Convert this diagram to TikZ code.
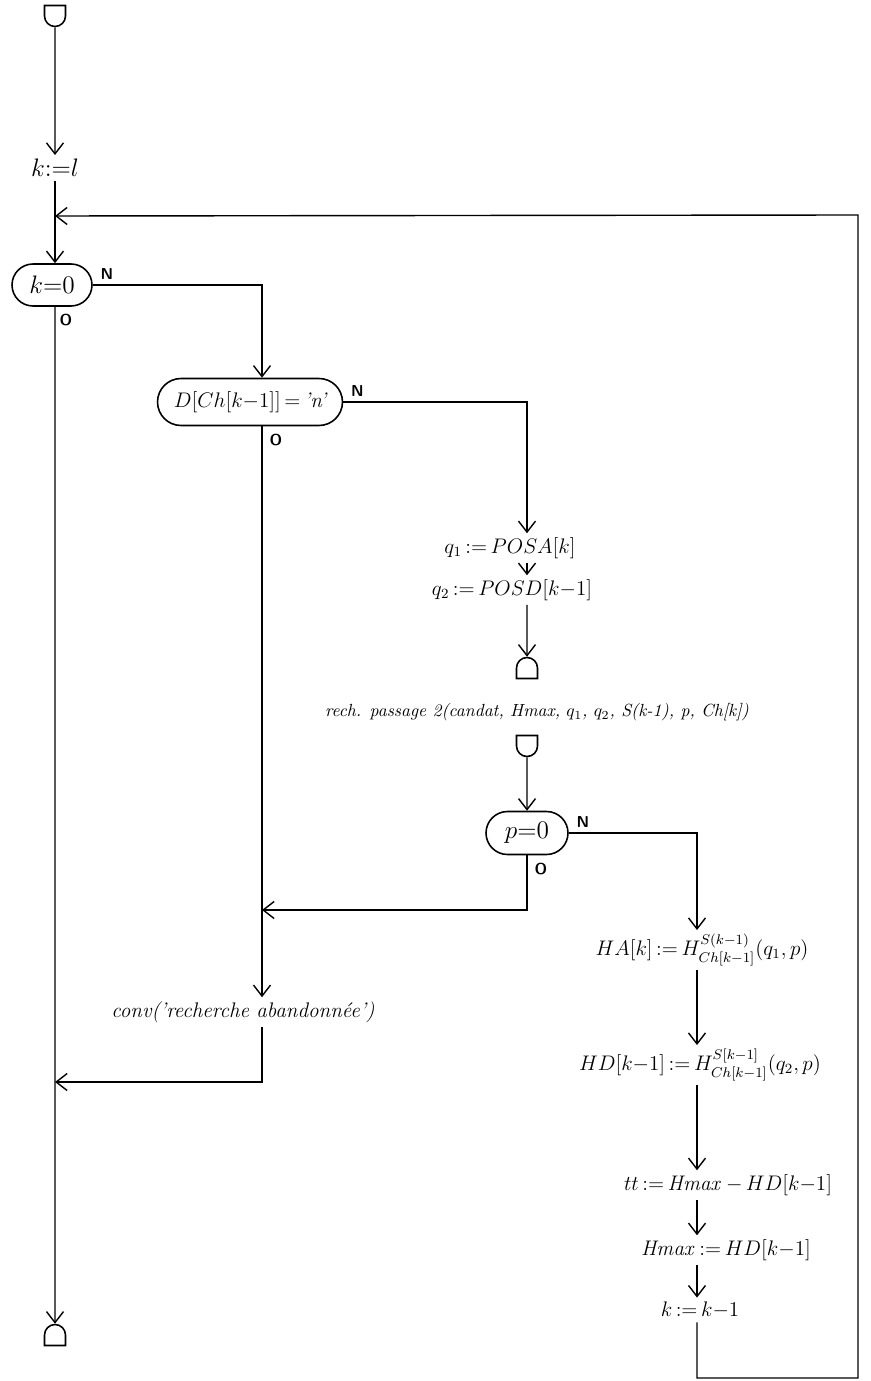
\documentclass[tikz,border=0pt]{standalone}
\usepackage{amsmath,amssymb}
\usepackage{tikz}
\usetikzlibrary{shapes.misc,arrows.meta,positioning,calc}

\begin{document}
\begin{tikzpicture}[
    x=0.02cm, y=-0.02cm,
    cond/.style={rectangle, draw, rounded corners=0.42cm, line width=0.9pt, inner xsep=2pt, font=\Large},
    termtop/.style={rounded rectangle, rounded rectangle west arc=none, draw, line width=0.9pt, minimum width=0.36cm, minimum height=0.42cm, inner sep=0pt, rotate=-90},
    termbot/.style={rounded rectangle, rounded rectangle west arc=none, draw, line width=0.9pt, minimum width=0.36cm, minimum height=0.42cm, inner sep=0pt, rotate=90},
    instr/.style={font=\large, inner sep=2pt},
    lbl/.style={font=\sffamily\small\bfseries, inner sep=1pt},
    >={Straight Barb[length=2.2mm,width=3.4mm]}, line width=0.8pt
]
    \useasboundingbox (0,0) rectangle (870,1381);
    \coordinate (colB) at (262,0);
    \coordinate (colC) at (527,0);
    \coordinate (colD) at (697,0);

    % left column
    \node[termtop] (start) at (55,16) {};
    \node[instr, font=\Large] (kinit) at (55,168) {$k{:=}l$};
    \coordinate (join) at (55,216);
    \node[cond, minimum width=1.6cm, minimum height=0.84cm] (kzero) at (52,285) {$k{=}0$};
    \node[lbl, above right=2pt and 3pt of kzero.east] {N};
    \node[lbl, below right=3pt and 3pt of kzero.south] {O};
    \node[termbot] (stop) at (55,1335) {};

    % second column
    \node[cond, font=\large, minimum width=3.7cm, minimum height=0.94cm, rounded corners=0.47cm] (dtest) at (250,402) {$D[Ch[k{-}1]]\,{=}\,\text{\itshape 'n'}$};
    \node[lbl, above right=2pt and 3pt of dtest.east] {N};
    \node[lbl, anchor=north west, xshift=3pt, yshift=-3pt] at (dtest.south -| colB) {O};
    \node[instr] (conv) at (243,1012) {\itshape conv('recherche abandonn\'ee')};
    \coordinate (joinP) at (262,910);
    \coordinate (joinC) at (55,1082);

    % third column
    \node[instr] (qone) at (510,548) {$q_1\,{:=}\,POSA[k]$};
    \node[instr] (qtwo) at (512,590) {$q_2\,{:=}\,POSD[k{-}1]$};
    \node[termbot] (callin) at (527,668) {};
    \node[instr, font=\normalsize] (rech) at (537,712) {\itshape rech. passage 2(candat, Hmax, $q_1$, $q_2$, S(k-1), p, Ch[k])};
    \node[termtop] (callout) at (527,746) {};
    \node[cond, minimum width=1.64cm, minimum height=0.86cm, rounded corners=0.43cm] (ptest) at (527,833) {$p{=}0$};
    \node[lbl, above right=2pt and 3pt of ptest.east] {N};
    \node[lbl, below right=3pt and 3pt of ptest.south] {O};

    % right column
    \node[instr] (ha) at (702,950) {$HA[k]\,{:=}\,H^{S(k-1)}_{Ch[k-1]}(q_1,p)$};
    \node[instr] (hd) at (700,1065) {$HD[k{-}1]\,{:=}\,H^{S[k-1]}_{Ch[k-1]}(q_2,p)$};
    \node[instr] (tt) at (728,1185) {$tt\,{:=}\,\mathit{Hmax}\,{-}\,HD[k{-}1]$};
    \node[instr] (hmax) at (726,1250) {$\mathit{Hmax}\,{:=}\,HD[k{-}1]$};
    \node[instr] (kdec) at (700,1310) {$k\,{:=}\,k{-}1$};
    \coordinate (loopB) at (858,1378);
    \coordinate (loopC) at (858,215);

    \draw[->] (start) -- (kinit);
    \draw[->] (kinit) -- (kzero.north -| join);
    \draw[->] (kzero.south -| join) -- (stop);
    \draw[->] (kzero.east) -| (dtest.north -| colB);
    \draw[->] (dtest.east) -| (qone.north -| colC);
    \draw[->] (qone.south -| colC) -- (qtwo.north -| colC);
    \draw[->] (qtwo.south -| colC) -- (callin);
    \draw[->] (callout) -- (ptest);
    \draw[->] (ptest.east) -| (ha.north -| colD);
    \draw[->] (ptest.south) |- (joinP);
    \draw[->] (dtest.south -| colB) -- (conv.north -| colB);
    \draw[->] (conv.south -| colB) |- (joinC);
    \draw[->] (ha.south -| colD) -- (hd.north -| colD);
    \draw[->] (hd.south -| colD) -- (tt.north -| colD);
    \draw[->] (tt.south -| colD) -- (hmax.north -| colD);
    \draw[->] (hmax.south -| colD) -- (kdec.north -| colD);
    \draw[->] (kdec.south -| colD) |- (loopB) -- (loopC) -- (join);
\end{tikzpicture}
\end{document}
